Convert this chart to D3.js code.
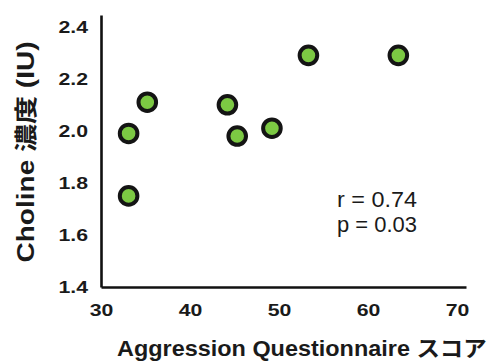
<!DOCTYPE html>
<html>
<head>
<meta charset="utf-8">
<script src="https://cdn.jsdelivr.net/npm/d3@7"></script>
<style>
  body { margin: 0; background: #fff; }
  text { font-family: "Liberation Sans", Arial, "Noto Sans CJK JP", sans-serif; fill: #1a1a1a; }
</style>
</head>
<body>
<svg id="chart"></svg>
<script>
const WIDTH = 488;
const HEIGHT = 362;

// aggression score vs choline concentration
const scores = [33.1, 35.2, 44.2, 45.3, 49.2, 53.3, 63.4, 33.1];
const choline = [1.99, 2.11, 2.10, 1.98, 2.01, 2.29, 2.29, 1.75];
const xTicks = [30, 40, 50, 60, 70];
const yTicks = [1.4, 1.6, 1.8, 2.0, 2.2, 2.4];
const statLines = ["r = 0.74", "p = 0.03"];

const svg = d3.select("#chart").attr("width", WIDTH).attr("height", HEIGHT);

const x = d3.scaleLinear().domain([30, 71]).range([101, 466]);
const y = d3.scaleLinear().domain([1.4, 2.445]).range([287, 15]);

/* axes: lines only, labels without tick marks */
const xAxis = svg.append("g")
  .attr("transform", `translate(0,${y(1.4)})`)
  .call(d3.axisBottom(x).tickValues(xTicks).tickSize(0).tickPadding(17).tickFormat(d3.format("d")));
const yAxis = svg.append("g")
  .attr("transform", `translate(${x(30)},0)`)
  .call(d3.axisLeft(y).tickValues(yTicks).tickSize(0).tickPadding(13).tickFormat(d3.format(".1f")));

[xAxis, yAxis].forEach((a) => {
  a.select(".domain").attr("stroke", "#111").attr("stroke-width", 2.6);
  a.selectAll("text")
    .attr("font-size", 17)
    .attr("font-weight", "bold")
    .attr("fill", "#1a1a1a")
    .style("font-family", "'Liberation Sans', Arial, sans-serif");
});

// the reference labels are drawn wider than they are tall
xAxis.selectAll(".tick text").each(function () {
  d3.select(this).attr("transform", "scale(1.25,1)").attr("x", 0);
});
yAxis.selectAll(".tick text").each(function () {
  const t = d3.select(this);
  const xx = +t.attr("x");
  t.attr("x", xx / 1.25).attr("transform", "scale(1.25,1)");
});

/* points */
svg.append("g")
  .selectAll("circle")
  .data(scores.map((s, i) => [s, choline[i]]))
  .enter()
  .append("circle")
  .attr("cx", (d) => x(d[0]))
  .attr("cy", (d) => y(d[1]))
  .attr("r", 8.8)
  .attr("fill", "#7cc943")
  .attr("stroke", "#141414")
  .attr("stroke-width", 4);

// stretch a text node horizontally to a target width
function fitWidth(node, cx, cy, target, rot) {
  const w = node.getComputedTextLength();
  const k = target / w;
  d3.select(node).attr("transform",
    `translate(${cx},${cy})` + (rot ? ` rotate(${rot})` : "") + ` scale(${k},1)`);
}

/* stats */
svg.append("g")
  .selectAll("text")
  .data(statLines)
  .enter()
  .append("text")
  .attr("text-anchor", "middle")
  .attr("font-size", 22)
  .text((d) => d)
  .each(function (d, i) {
    fitWidth(this, 377, 207 + i * 25, 80);
  });

/* axis titles */
svg.append("text")
  .attr("font-size", 22)
  .attr("font-weight", "bold")
  .text("Aggression Questionnaire スコア")
  .each(function () { fitWidth(this, 117, 356, 370); });

svg.append("text")
  .attr("text-anchor", "middle")
  .attr("font-size", 23)
  .attr("font-weight", "bold")
  .text("Choline 濃度 (IU)")
  .each(function () { fitWidth(this, 34, 152, 221, -90); });
</script>
</body>
</html>
